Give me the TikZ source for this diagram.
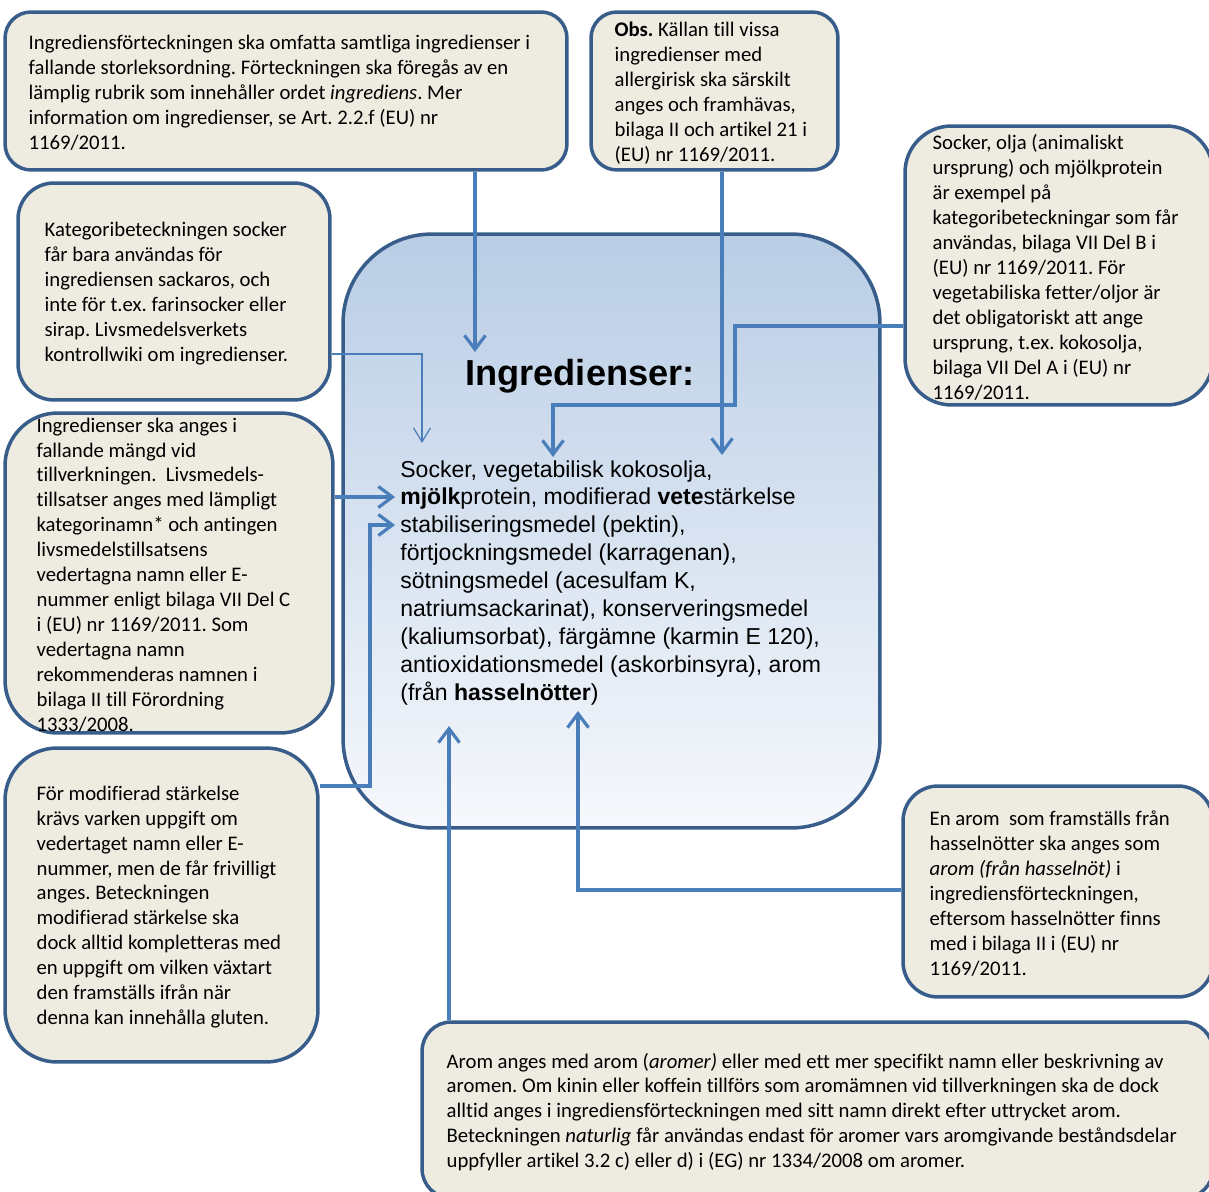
\documentclass[tikz,border=0pt]{standalone}
\usepackage{fontspec}
\setmainfont{Carlito}[Ligatures=NoCommon]
\newfontfamily\arialfont{Liberation Sans}
\usepackage{xcolor}
\usepackage{tikz}
\usetikzlibrary{positioning,calc,arrows.meta}
\frenchspacing
\definecolor{noteFill}{HTML}{EEECE1}
\definecolor{noteBorder}{HTML}{385D8A}
\definecolor{arrowBlue}{HTML}{4A7EBB}
\definecolor{mainTop}{HTML}{B9CDE5}
\definecolor{mainBottom}{HTML}{F6F8FC}
\tikzset{
  noteBox/.style={
    rectangle,
    draw=noteBorder,
    fill=noteFill,
    line width=2pt
  },
  noteText/.style={
    font=\fontsize{11.8}{14.2}\selectfont,
    align=left,
    inner sep=0pt,
    yshift=-0.04cm
  },
  mainBox/.style={
    rectangle,
    draw=noteBorder,
    top color=mainTop,
    bottom color=mainBottom,
    line width=2pt
  },
  titleText/.style={
    font=\arialfont\bfseries\fontsize{20.6}{24}\selectfont,
    inner sep=0pt
  },
  listText/.style={
    font=\arialfont\fontsize{13.1}{15.9}\selectfont,
    align=left,
    inner sep=0pt
  },
  arrowLine/.style={
    draw=arrowBlue,
    line width=1.8pt,
    -{Straight Barb[length=2.8mm,width=4.2mm]}
  },
  thinArrow/.style={
    draw=arrowBlue,
    line width=0.7pt,
    -{Straight Barb[length=2.8mm,width=3.4mm]}
  }
}

\begin{document}
\begin{tikzpicture}[x=0.02cm, y=-0.02cm]
  \useasboundingbox (0,0) rectangle (1209,1192);

  % the list in the middle
  \node[mainBox, minimum width=10.74cm, minimum height=11.88cm, rounded corners=1.78cm] (ingrBox) at (611.5,531) {};
  \node[titleText] (ingrTitle) at (580,376) {Ingredienser:};
  \node[listText, anchor=north west] (ingrList) at (400,460) {Socker, vegetabilisk kokosolja,\\
    \textbf{mjölk}protein, modifierad \textbf{vete}stärkelse\\
    stabiliseringsmedel (pektin),\\
    förtjockningsmedel (karragenan),\\
    sötningsmedel (acesulfam K,\\
    natriumsackarinat), konserveringsmedel\\
    (kaliumsorbat), färgämne (karmin E 120),\\
    antioxidationsmedel (askorbinsyra), arom\\
    (från \textbf{hasselnötter})};

  % notes
  \node[noteBox, minimum width=11.24cm, minimum height=3.16cm, rounded corners=0.52cm] (boxRubrik) at (286,91) {};
  \node[noteText, right=0.5cm of boxRubrik.west] (txtRubrik) {Ingrediensförteckningen ska omfatta samtliga ingredienser i\\
    fallande storleksordning. Förteckningen ska föregås av en\\
    lämplig rubrik som innehåller ordet \textit{ingrediens}. Mer\\
    information om ingredienser, se Art. 2.2.f (EU) nr\\
    1169/2011.};

  \node[noteBox, minimum width=4.94cm, minimum height=3.16cm, rounded corners=0.52cm] (boxObs) at (714.5,91) {};
  \node[noteText, right=0.5cm of boxObs.west] (txtObs) {\textbf{Obs.} Källan till vissa\\
    ingredienser med\\
    allergirisk ska särskilt\\
    anges och framhävas,\\
    bilaga II och artikel 21 i\\
    (EU) nr 1169/2011.};

  \node[noteBox, minimum width=6.16cm, minimum height=5.58cm, rounded corners=0.93cm] (boxKategori) at (1059,265.5) {};
  \node[noteText, right=0.58cm of boxKategori.west] (txtKategori) {Socker, olja (animaliskt\\
    ursprung) och mjölkprotein\\
    är exempel på\\
    kategoribeteckningar som får\\
    användas, bilaga VII Del B i\\
    (EU) nr 1169/2011. För\\
    vegetabiliska fetter/oljor är\\
    det obligatoriskt att ange\\
    ursprung, t.ex. kokosolja,\\
    bilaga VII Del A i (EU) nr\\
    1169/2011.};

  \node[noteBox, minimum width=6.24cm, minimum height=4.34cm, rounded corners=0.72cm] (boxSocker) at (174,291.5) {};
  \node[noteText, right=0.56cm of boxSocker.west] (txtSocker) {Kategoribeteckningen socker\\
    får bara användas för\\
    ingrediensen sackaros, och\\
    inte för t.ex. farinsocker eller\\
    sirap. Livsmedelsverkets\\
    kontrollwiki om ingredienser.};

  \node[noteBox, minimum width=6.56cm, minimum height=6.4cm, rounded corners=1.05cm] (boxAnges) at (169,573) {};
  \node[noteText, right=0.66cm of boxAnges.west] (txtAnges) {Ingredienser ska anges i\\
    fallande mängd vid\\
    tillverkningen.\ \ Livsmedels-\\
    tillsatser anges med lämpligt\\
    kategorinamn* och antingen\\
    livsmedelstillsatsens\\
    vedertagna namn eller E-\\
    nummer enligt bilaga VII Del C\\
    i (EU) nr 1169/2011. Som\\
    vedertagna namn\\
    rekommenderas namnen i\\
    bilaga II till Förordning\\
    1333/2008.};

  \node[noteBox, minimum width=6.26cm, minimum height=6.28cm, rounded corners=1.04cm] (boxStarkelse) at (161.5,905) {};
  \node[noteText, right=0.66cm of boxStarkelse.west] (txtStarkelse) {För modifierad stärkelse\\
    krävs varken uppgift om\\
    vedertaget namn eller E-\\
    nummer, men de får frivilligt\\
    anges. Beteckningen\\
    modifierad stärkelse ska\\
    dock alltid kompletteras med\\
    en uppgift om vilken växtart\\
    den framställs ifrån när\\
    denna kan innehålla gluten.};

  \node[noteBox, minimum width=6.2cm, minimum height=4.22cm, rounded corners=0.7cm] (boxHassel) at (1058,891.5) {};
  \node[noteText, right=0.56cm of boxHassel.west] (txtHassel) {En arom\ \ som framställs från\\
    hasselnötter ska anges som\\
    \textit{arom (från hasselnöt)} i\\
    ingrediensförteckningen,\\
    eftersom hasselnötter finns\\
    med i bilaga II i (EU) nr\\
    1169/2011.};

  \node[noteBox, minimum width=15.82cm, minimum height=3.52cm, rounded corners=0.58cm] (boxArom) at (817.5,1110) {};
  \node[noteText, right=0.52cm of boxArom.west] (txtArom) {Arom anges med arom (\textit{aromer)} eller med ett mer specifikt namn eller beskrivning av\\
    aromen. Om kinin eller koffein tillförs som aromämnen vid tillverkningen ska de dock\\
    alltid anges i ingrediensförteckningen med sitt namn direkt efter uttrycket arom.\\
    Beteckningen \textit{naturlig} får användas endast för aromer vars aromgivande beståndsdelar\\
    uppfyller artikel 3.2 c) eller d) i (EG) nr 1334/2008 om aromer.};

  % arrow tips inside the list
  \coordinate (tipTitle) at (475,352);
  \coordinate (tipVete) at (722,455);
  \coordinate (tipMjolk) at (553,457);
  \coordinate (tipSocker) at (422,443);
  \coordinate (tipLista) at (395,497);
  \coordinate (tipStab) at (395,525);
  \coordinate (tipArom) at (449,726);
  \coordinate (tipHassel) at (578,711);

  \draw[arrowLine] (boxRubrik.south -| tipTitle) -- (tipTitle);
  \draw[arrowLine] (boxObs.south -| tipVete) -- (tipVete);
  \draw[arrowLine] (boxKategori.west |- 0,326) -| (735,405) -| (tipMjolk);
  \draw[thinArrow] (boxSocker.east |- 0,354) -| (tipSocker);
  \draw[arrowLine] (boxAnges.east |- tipLista) -- (tipLista);
  \draw[arrowLine] (boxStarkelse.east |- 0,786) -| (370,525) -- (tipStab);
  \draw[arrowLine] (boxArom.north -| tipArom) -- (tipArom);
  \draw[arrowLine] (boxHassel.west |- 0,890) -| (tipHassel);
\end{tikzpicture}
\end{document}
